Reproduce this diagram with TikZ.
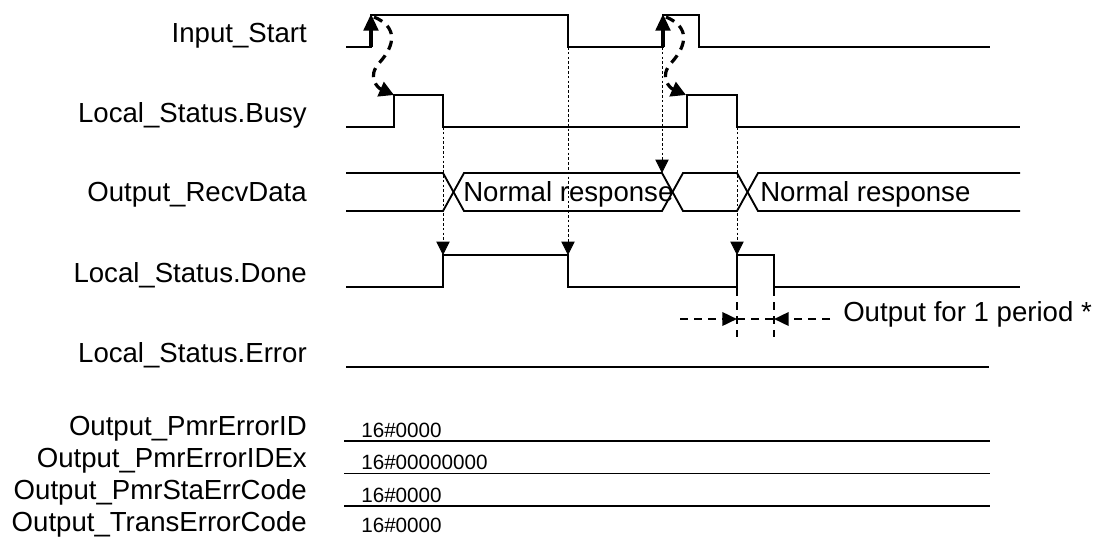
\documentclass[tikz,border=0pt]{standalone}
\usepackage{fontspec}
\setmainfont{Liberation Sans}
\usetikzlibrary{arrows.meta}
\begin{document}
\begin{tikzpicture}[x=0.75pt,y=-0.75pt,
  sig/.style={line width=1.4pt, line join=miter},
  lbl/.style={anchor=base east, inner sep=0pt, font=\fontsize{20.7}{24}\selectfont},
  txt/.style={anchor=base west, inner sep=0pt, font=\fontsize{20.7}{24}\selectfont},
  hex/.style={anchor=base west, inner sep=0pt, font=\fontsize{15.5}{18}\selectfont},
  guide/.style={line width=0.6pt, dash pattern=on 2pt off 1.6pt, -{Triangle[width=10pt,length=10pt]}},
  rise/.style={line width=2.4pt, -{Triangle[width=11pt,length=12.5pt]}},
  curvy/.style={line width=2.4pt, dash pattern=on 7pt off 5pt, -{Triangle[width=11.5pt,length=11pt]}},
  meas/.style={line width=1.9pt, dash pattern=on 6pt off 4.5pt},
  measarrow/.style={meas, -{Triangle[width=10pt,length=11pt]}}
]
\useasboundingbox (0,0) rectangle (1096,536);

% labels
\node[lbl] (lIn)   at (307,42)  {Input\_Start};
\node[lbl] (lBusy) at (307,122) {Local\_Status.Busy};
\node[lbl] (lRecv) at (307,201) {Output\_RecvData};
\node[lbl] (lDone) at (307,282) {Local\_Status.Done};
\node[lbl] (lErr)  at (307,362) {Local\_Status.Error};
\node[lbl] (lP1) at (307,435) {Output\_PmrErrorID};
\node[lbl] (lP2) at (307,467) {Output\_PmrErrorIDEx};
\node[lbl] (lP3) at (307,499.5) {Output\_PmrStaErrCode};
\node[lbl] (lP4) at (307,531) {Output\_TransErrorCode};

% Input_Start
\draw[sig] (346,47) -- (371,47) -- (371,15) -- (568,15) -- (568,47) -- (663,47) -- (663,15) -- (699,15) -- (699,47) -- (990,47);
% Busy
\draw[sig] (346,127) -- (394,127) -- (394,95) -- (443,95) -- (443,127) -- (687,127) -- (687,95) -- (737,95) -- (737,127) -- (1020,127);
% RecvData
\draw[sig] (346,173) -- (443,173) -- (464,211) -- (662,211) -- (683,173) -- (737,173) -- (758,211) -- (1020,211);
\draw[sig] (346,211) -- (443,211) -- (464,173) -- (662,173) -- (683,211) -- (737,211) -- (758,173) -- (1020,173);
\node[txt] (nr1) at (463,201) {Normal response};
\node[txt] (nr2) at (760,201) {Normal response};
% Done
\draw[sig] (346,287) -- (443,287) -- (443,255) -- (568,255) -- (568,287) -- (737,287) -- (737,255) -- (774,255) -- (774,287) -- (1020,287);
% Error
\draw[sig] (346,367) -- (989,367);

% lower buses
\draw[sig] (344,441) -- (990,441);
\draw[sig] (344,473.5) -- (990,473.5);
\draw[sig] (344,506) -- (990,506);
\node[hex] (h1) at (361,437) {16\#0000};
\node[hex] (h2) at (361,469.5) {16\#00000000};
\node[hex] (h3) at (361,502) {16\#0000};
\node[hex] (h4) at (361,532) {16\#0000};

% guide coordinates
\coordinate (busyF1) at (443,127);
\coordinate (doneR1) at (443,255);
\coordinate (inF1) at (568,47);
\coordinate (doneF1) at (568,255);
\coordinate (inR2) at (662,47);
\coordinate (recv2) at (662,173);
\coordinate (busyF2) at (737,127);
\coordinate (doneR2) at (737,255);
\draw[guide] (busyF1) -- (doneR1);
\draw[guide] (inF1) -- (doneF1);
\draw[guide] (inR2) -- (recv2);
\draw[guide] (busyF2) -- (doneR2);

% rising edge arrows
\coordinate (inR1lo) at (371,47);
\coordinate (inR1hi) at (371,14);
\coordinate (inR2lo) at (663,47);
\coordinate (inR2hi) at (663,14);
\draw[rise] (inR1lo) -- (inR1hi);
\draw[rise] (inR2lo) -- (inR2hi);

% curved dashed causal arrows
\coordinate (c1s) at (374,17);
\coordinate (c1e) at (394,95);
\coordinate (c2s) at (666,17);
\coordinate (c2e) at (686,95);
\draw[curvy] (c1s) .. controls (398,27) and (395,45) .. (380,62) .. controls (366,77) and (378,88) .. (c1e);
\draw[curvy] (c2s) .. controls (690,27) and (687,45) .. (672,62) .. controls (658,77) and (670,88) .. (c2e);

% one-period measurement
\coordinate (m1t) at (737,288);
\coordinate (m1b) at (737,337);
\coordinate (m2t) at (774,288);
\coordinate (m2b) at (774,337);
\draw[meas] (m1t) -- (m1b);
\draw[meas] (m2t) -- (m2b);
\coordinate (ma) at (680,319);
\coordinate (mb) at (737,319);
\coordinate (mc) at (774,319);
\coordinate (md) at (830,319);
\draw[measarrow] (ma) -- (mb);
\draw[meas] (mb) -- (mc);
\draw[measarrow] (md) -- (mc);
\node[txt] (per) at (843,321) {Output for 1 period *};
\end{tikzpicture}
\end{document}
